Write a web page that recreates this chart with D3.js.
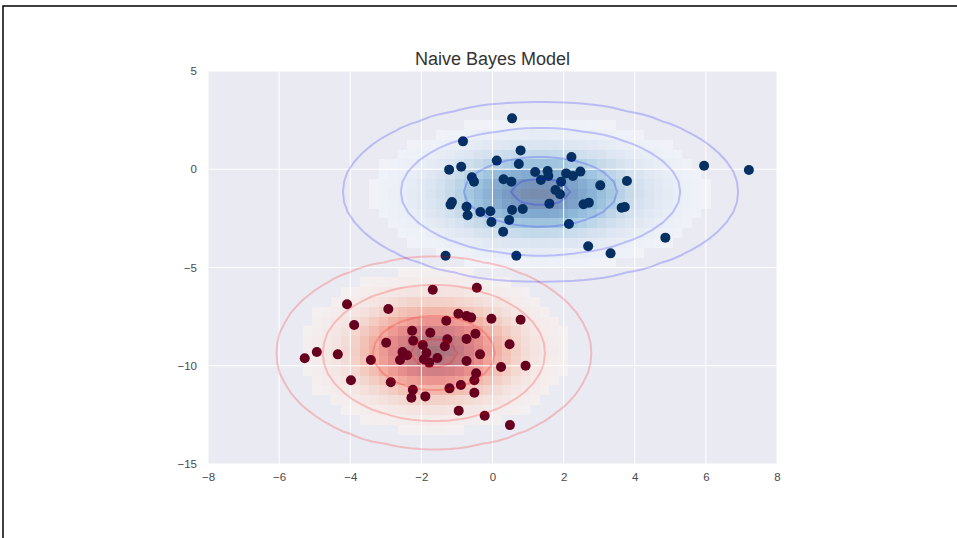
<!DOCTYPE html>
<html><head><meta charset="utf-8">
<script src="https://cdn.jsdelivr.net/npm/d3@7"></script>
<style>body{margin:0;background:#fff} svg{display:block}</style>
</head><body><svg id="chart" width="957" height="538"></svg>
<script>
// ---- data ----
const blueX = [0.55,-0.83,0.79,0.12,0.74,-1.22,-0.88,-0.58,-0.52,0.31,0.53,1.20,1.55,1.36,1.57,1.77,-1.14,-1.18,-0.73,-0.70,-0.34,-0.06,-0.03,0.55,0.85,0.47,0.30,1.60,-1.32,0.67,
               2.22,2.07,2.26,2.47,1.93,1.90,3.03,3.78,2.56,2.71,3.63,3.72,2.15,2.69,3.32,4.86,5.95,7.21];
const blueY = [2.59,1.42,0.96,0.44,0.27,-0.02,0.13,-0.41,-0.63,-0.51,-0.63,-0.14,-0.09,-0.55,-0.34,-1.06,-1.67,-1.80,-1.91,-2.34,-2.18,-2.14,-2.68,-2.07,-2.02,-2.58,-3.18,-1.75,-4.40,-4.40,
               0.62,-0.21,-0.34,-0.12,-0.63,-1.27,-0.82,-0.60,-1.78,-1.70,-1.96,-1.92,-2.79,-3.92,-4.28,-3.48,0.18,-0.04];
const redX = [-1.68,-4.09,-2.93,-3.89,-0.96,-0.73,-1.30,-2.26,-1.75,-2.23,-2.99,-1.96,-1.27,-1.34,-0.73,-2.53,-2.40,-2.60,-1.86,-1.93,-1.78,-1.55,-0.73,-4.94,-5.28,-4.35,-3.42,-3.98,-2.86,-2.24,-2.28,-1.89,-1.21,-0.89,-0.95,
              -0.44,-0.60,-0.03,0.79,-0.48,0.48,-0.35,0.24,0.93,-0.46,-0.51,-0.51,-0.22,0.49];
const redY = [-6.13,-6.87,-7.11,-7.93,-7.35,-7.47,-7.71,-8.22,-8.32,-8.73,-8.83,-8.94,-8.65,-9.01,-8.64,-9.30,-9.47,-9.71,-9.35,-9.67,-9.84,-9.61,-9.76,-9.30,-9.62,-9.42,-9.71,-10.74,-10.84,-11.22,-11.63,-11.56,-11.15,-10.98,-12.29,
              -6.03,-7.55,-7.61,-7.66,-8.37,-8.91,-9.42,-10.06,-10.00,-10.38,-10.74,-11.37,-12.54,-13.02];
// Gaussian naive Bayes model parameters (per class mean and std)
const redMean = [-1.65, -9.35], redStd = [1.455, 1.60];
const blueMean = [1.35, -1.15], blueStd = [1.83, 1.50];
const contourLevels = [0.01, 0.1, 0.5, 0.9];
const xTicks = [-8,-6,-4,-2,0,2,4,6,8];
const yTicks = [5,0,-5,-10,-15];
const xDomain = [-8, 8], yDomain = [-15, 5];
const nGX = 60, nGY = 40;

// ---- layout ----
const svg = d3.select("#chart");
const x = d3.scaleLinear(xDomain, [208, 777]);
const y = d3.scaleLinear(yDomain, [464, 71]);
const font = "'Liberation Sans', Arial, sans-serif";

// frame lines
svg.append("path").attr("d", "M3,538 L3,6 L957,6").attr("fill","none").attr("stroke","#000").attr("stroke-width",1.5);

// axes background
svg.append("rect").attr("x", x(-8)).attr("y", y(5)).attr("width", x(8)-x(-8)).attr("height", y(-15)-y(5)).attr("fill", "#EAEAF2");

const xg = d3.range(nGX).map(i => xDomain[0] + i*(xDomain[1]-xDomain[0])/(nGX-1));
const yg = d3.range(nGY).map(j => yDomain[0] + j*(yDomain[1]-yDomain[0])/(nGY-1));

function density(mu, sd) {
  const vals = new Array(nGX*nGY);
  for (let j = 0; j < nGY; j++) for (let i = 0; i < nGX; i++) {
    const dx = (xg[i]-mu[0])/sd[0], dy = (yg[j]-mu[1])/sd[1];
    vals[i + j*nGX] = Math.exp(-0.5*dx*dx) * Math.exp(-0.5*dy*dy);
  }
  return vals;
}

const classes = [
  {mu: redMean, sd: redStd, interp: d3.interpolateReds, line: "red"},
  {mu: blueMean, sd: blueStd, interp: d3.interpolateBlues, line: "blue"}
];

const imgG = svg.append("g").attr("shape-rendering","crispEdges");
classes.forEach(c => {
  c.vals = density(c.mu, c.sd);
  const unmasked = c.vals.filter(v => v >= 0.03);
  const vmin = d3.min(unmasked), vmax = d3.max(unmasked);
  const cells = [];
  const cw = (xDomain[1]-xDomain[0])/nGX, ch = (yDomain[1]-yDomain[0])/nGY;
  for (let j = 0; j < nGY; j++) for (let i = 0; i < nGX; i++) {
    const v = c.vals[i + j*nGX];
    if (v >= 0.03) cells.push({x0: xDomain[0]+i*cw, x1: xDomain[0]+(i+1)*cw, y0: yDomain[0]+j*ch, y1: yDomain[0]+(j+1)*ch, t: (v-vmin)/(vmax-vmin)});
  }
  imgG.append("g").attr("opacity", 0.5).selectAll("rect").data(cells).join("rect")
    .attr("x", d => x(d.x0)).attr("y", d => y(d.y1))
    .attr("width", d => x(d.x1)-x(d.x0)).attr("height", d => y(d.y0)-y(d.y1))
    .attr("fill", d => c.interp(d.t));
});

// grid
const grid = svg.append("g");
grid.selectAll(".gx").data(xTicks).join("line").attr("x1", d=>x(d)).attr("x2", d=>x(d)).attr("y1", y(5)).attr("y2", y(-15)).attr("stroke","#fff").attr("stroke-width",1);
grid.selectAll(".gy").data(yTicks).join("line").attr("y1", d=>y(d)).attr("y2", d=>y(d)).attr("x1", x(-8)).attr("x2", x(8)).attr("stroke","#fff").attr("stroke-width",1);

// points
const pts = svg.append("g");
pts.selectAll(".r").data(redX.map((v,i)=>[v, redY[i]])).join("circle").attr("cx", d=>x(d[0])).attr("cy", d=>y(d[1])).attr("r", 5).attr("fill", "#67001f");
pts.selectAll(".b").data(blueX.map((v,i)=>[v, blueY[i]])).join("circle").attr("cx", d=>x(d[0])).attr("cy", d=>y(d[1])).attr("r", 5).attr("fill", "#053061");

// contours
const tf = d3.geoTransform({point(px, py) {
  this.stream.point(x(xDomain[0] + (px-0.5)*(xDomain[1]-xDomain[0])/(nGX-1)),
                    y(yDomain[0] + (py-0.5)*(yDomain[1]-yDomain[0])/(nGY-1)));
}});
const gp = d3.geoPath(tf);
classes.forEach(c => {
  const cs = d3.contours().size([nGX, nGY]).thresholds(contourLevels)(c.vals);
  svg.append("g").selectAll("path").data(cs).join("path").attr("d", gp)
    .attr("fill","none").attr("stroke", c.line).attr("stroke-opacity", 0.2).attr("stroke-width", 2);
});

// axes
const xAxis = svg.append("g").attr("transform", `translate(0,${y(-15)})`)
  .call(d3.axisBottom(x).tickValues(xTicks).tickSize(0).tickPadding(9).tickFormat(d3.format("d")));
const yAxis = svg.append("g").attr("transform", `translate(${x(-8)},0)`)
  .call(d3.axisLeft(y).tickValues(yTicks).tickSize(0).tickPadding(11).tickFormat(d3.format("d")));
[xAxis, yAxis].forEach(a => {
  a.select(".domain").remove();
  a.style("color", "#4a4a4a");
  a.selectAll("text").attr("font-family", font).attr("font-size", 11.5).style("fill", "#4a4a4a");
});

// title
svg.append("text").attr("x", (x(-8)+x(8))/2).attr("y", 65).attr("text-anchor","middle")
  .attr("font-family", font).attr("font-size", 18).attr("fill", "#333").text("Naive Bayes Model");
</script>
</body></html>
